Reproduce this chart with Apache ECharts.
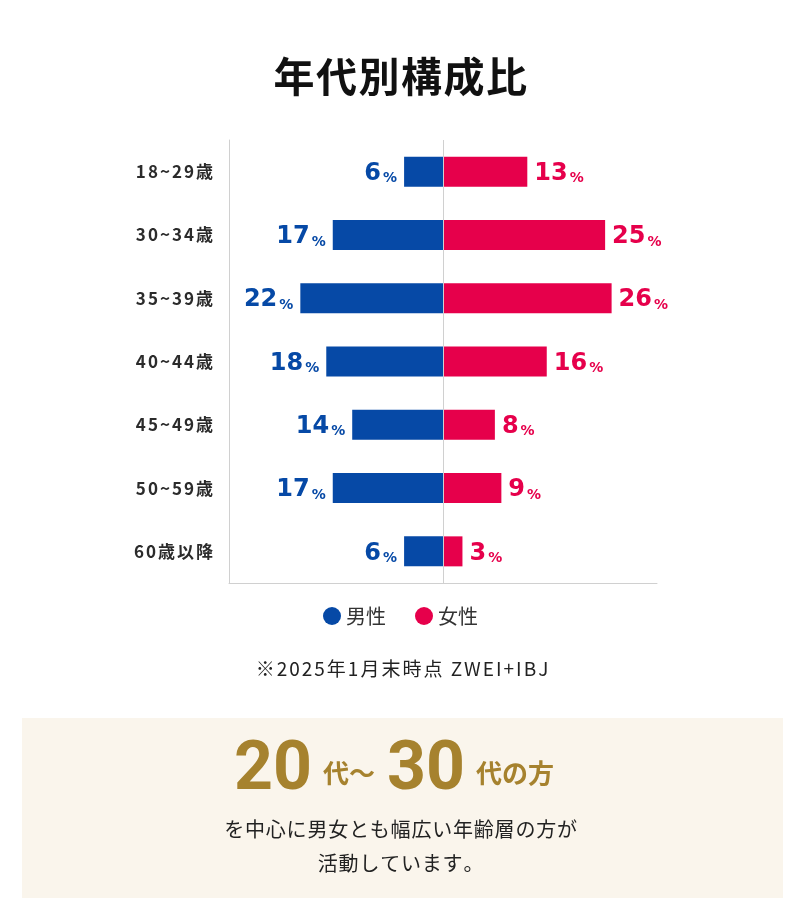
<!DOCTYPE html>
<html>
<head>
<meta charset="utf-8">
<title>年代別構成比</title>
<script src="https://cdn.jsdelivr.net/npm/echarts@6/dist/echarts.min.js"></script>
<style>
  html, body { margin: 0; padding: 0; background: #fff; }
  #chart { width: 793px; height: 912px; }
</style>
</head>
<body>
<div id="chart"></div>
<script>
var categories = ['18~29歳', '30~34歳', '35~39歳', '40~44歳', '45~49歳', '50~59歳', '60歳以降'];
var male = [6, 17, 22, 18, 14, 17, 6];
var female = [13, 25, 26, 16, 8, 9, 3];
var seriesNames = ['男性', '女性'];

var BLUE = '#0649a6';
var PINK = '#e6004b';
var GOLD = '#a6822e';
var CJK = '"Noto Sans CJK JP", "Noto Sans", sans-serif';
var NUM = '"DejaVu Sans", sans-serif';

var chart = echarts.init(document.getElementById('chart'));

// canvas text has no letter-spacing, so each character becomes a rich token with right padding
function spaced(str, key) {
    return str.split('').map(function(c) {
        return '{' + key + '|' + c + '}';
    }).join('');
}

function pctLabel(pos, color) {
    return {
        show: true,
        position: pos,
        distance: 7,
        formatter: function(p) {
            return '{n|' + Math.abs(p.value) + '}{p|%}';
        },
        rich: {
            n: { fontSize: 24, fontWeight: 'bold', color: color, fontFamily: NUM, lineHeight: 28, verticalAlign: 'bottom' },
            p: { fontSize: 14, fontWeight: 'bold', color: color, fontFamily: NUM, lineHeight: 22, verticalAlign: 'bottom', padding: [0, 0, 0, 2] }
        }
    };
}

var option = {
    backgroundColor: '#fff',
    legend: {
        data: seriesNames,
        left: 318,
        top: 601,
        icon: 'circle',
        itemWidth: 18,
        itemHeight: 18,
        itemGap: 29,
        textStyle: { fontSize: 20, color: '#333', fontFamily: CJK }
    },
    grid: { left: 229, right: 136, top: 140, bottom: 329 },
    xAxis: {
        type: 'value',
        min: -33,
        max: 33,
        axisLine: { show: true, onZero: false, lineStyle: { color: '#d0d0d0' } },
        axisTick: { show: false },
        axisLabel: { show: false },
        splitLine: { show: false }
    },
    yAxis: {
        type: 'category',
        inverse: true,
        data: categories,
        axisLine: { show: true, onZero: false, lineStyle: { color: '#d0d0d0' } },
        axisTick: { show: false },
        axisLabel: {
            margin: 14,
            formatter: function(v) { return spaced(v, 'c'); },
            rich: {
                c: { fontSize: 17, fontWeight: 'bold', color: '#2b2b2b', fontFamily: CJK, padding: [0, 2, 0, 0] }
            }
        }
    },
    series: [
        {
            name: seriesNames[0],
            type: 'bar',
            barWidth: 30,
            barGap: '-100%',
            itemStyle: { color: BLUE },
            label: pctLabel('left', BLUE),
            data: male.map(function(v) { return -v; }),
            markLine: {
                silent: true,
                symbol: 'none',
                label: { show: false },
                lineStyle: { color: '#d0d0d0', type: 'solid', width: 1 },
                data: [{ xAxis: 0 }]
            }
        },
        {
            name: seriesNames[1],
            type: 'bar',
            barWidth: 30,
            itemStyle: { color: PINK },
            label: pctLabel('right', PINK),
            data: female
        }
    ],
    graphic: [
        {
            type: 'text',
            x: 401,
            y: 76,
            style: {
                text: spaced('年代別構成比', 't'),
                align: 'center',
                verticalAlign: 'middle',
                rich: {
                    t: { fontSize: 41, fontWeight: 'bold', fill: '#111', fontFamily: CJK, padding: [0, 1.5, 0, 0] }
                }
            }
        },
        {
            type: 'text',
            x: 403,
            y: 669,
            style: {
                text: spaced('※2025年1月末時点 ZWEI+IBJ', 'f'),
                align: 'center',
                verticalAlign: 'middle',
                rich: {
                    f: { fontSize: 19, fill: '#222', fontFamily: CJK, padding: [0, 2, 0, 0] }
                }
            }
        },
        {
            type: 'rect',
            z: -1,
            shape: { x: 22, y: 718, width: 761, height: 180 },
            style: { fill: '#faf5ec' }
        },
        {
            type: 'text',
            x: 394,
            y: 776,
            style: {
                text: '{b|20}{s1|代～}{b|30}{s2|代の方}',
                align: 'center',
                verticalAlign: 'middle',
                rich: {
                    b: { fontSize: 68, fontWeight: 'bold', fill: GOLD, fontFamily: 'Roboto, sans-serif', lineHeight: 60, verticalAlign: 'bottom' },
                    s1: { fontSize: 26, fontWeight: 'bold', fill: GOLD, fontFamily: CJK, lineHeight: 34, verticalAlign: 'bottom', padding: [0, 12, 20, 11] },
                    s2: { fontSize: 26, fontWeight: 'bold', fill: GOLD, fontFamily: CJK, lineHeight: 34, verticalAlign: 'bottom', padding: [0, 0, 20, 11] }
                }
            }
        },
        {
            type: 'text',
            x: 401,
            y: 829,
            style: {
                text: spaced('を中心に男女とも幅広い年齢層の方が', 'm'),
                align: 'center',
                verticalAlign: 'middle',
                rich: {
                    m: { fontSize: 20, fill: '#222', fontFamily: CJK, padding: [0, 0.8, 0, 0] }
                }
            }
        },
        {
            type: 'text',
            x: 401,
            y: 863,
            style: {
                text: spaced('活動しています。', 'm'),
                align: 'center',
                verticalAlign: 'middle',
                rich: {
                    m: { fontSize: 20, fill: '#222', fontFamily: CJK, padding: [0, 0.8, 0, 0] }
                }
            }
        }
    ]
};

chart.setOption(option);
</script>
</body>
</html>
